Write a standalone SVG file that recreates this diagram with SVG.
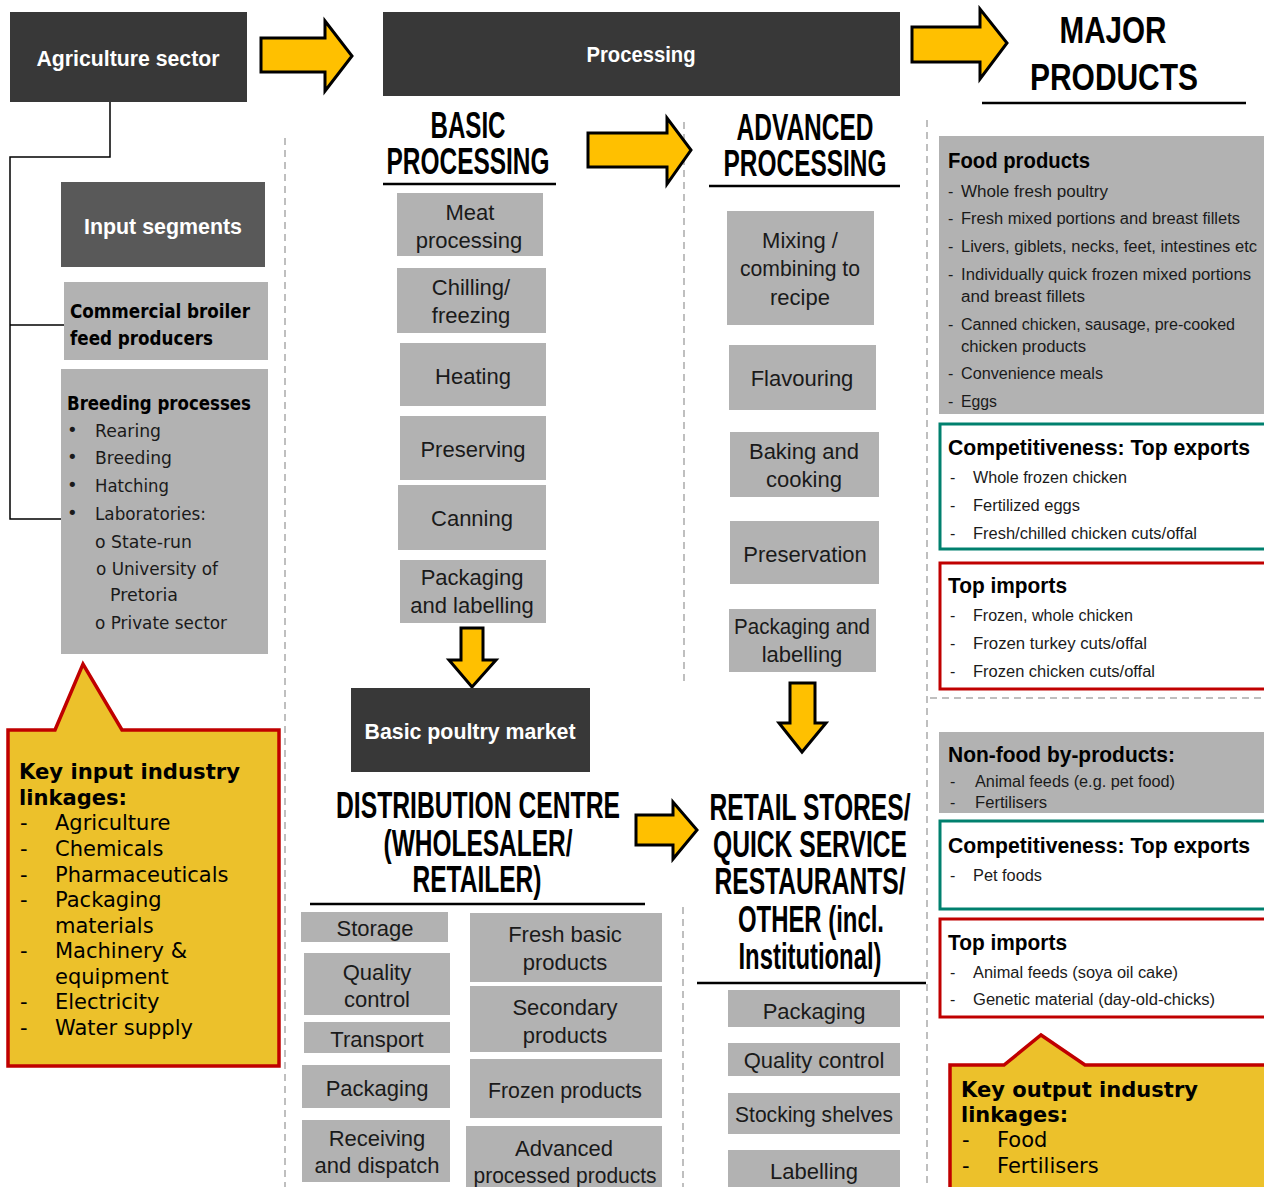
<svg xmlns="http://www.w3.org/2000/svg" width="1264" height="1187" viewBox="0 0 1264 1187">
<style>
.dark{fill:#383838}
.mid{fill:#595959}
.gray{fill:#b2b2b2}
.wt{font-family:"Liberation Sans",Arial,sans-serif;font-weight:bold;fill:#fff;font-size:22px;text-anchor:middle}
.hd{font-family:"Liberation Sans",Arial,sans-serif;font-weight:bold;fill:#000;font-size:36px;text-anchor:middle}
.bx{font-family:"Liberation Sans",Arial,sans-serif;fill:#1a1a1a;font-size:22px;text-anchor:middle}
.vb{font-family:"DejaVu Sans",Verdana,sans-serif;fill:#000;font-size:21px}
.vbb{font-family:"DejaVu Sans",Verdana,sans-serif;fill:#000;font-size:21px;font-weight:bold}
.br{font-family:"DejaVu Sans",Verdana,sans-serif;fill:#1a1a1a;font-size:18px}
.brb{font-family:"DejaVu Sans",Verdana,sans-serif;fill:#000;font-size:19px;font-weight:bold}
.rt{font-family:"Liberation Sans",Arial,sans-serif;fill:#1a1a1a;font-size:16px}
.rtb{font-family:"Liberation Sans",Arial,sans-serif;fill:#000;font-size:22px;font-weight:bold}
.arrow{fill:#ffc000;stroke:#000;stroke-width:3;stroke-linejoin:miter}
.conn{fill:none;stroke:#000;stroke-width:1.5}
.dash{fill:none;stroke:#aaa;stroke-width:1.5;stroke-dasharray:7 5}
.ul{stroke:#000;stroke-width:2.5}
.call{fill:#ecc12b;stroke:#c00000;stroke-width:3.5;stroke-linejoin:miter}
.teal{fill:#fff;stroke:#00806e;stroke-width:3}
.red{fill:#fff;stroke:#c00000;stroke-width:3}
</style>
<rect width="1264" height="1187" fill="#fff"/>

<g id="separators">
<line class="dash" x1="285" y1="138" x2="285" y2="1187"/>
<line class="dash" x1="684" y1="122" x2="684" y2="684"/>
<line class="dash" x1="683" y1="907" x2="683" y2="1187"/>
<line class="dash" x1="927" y1="120" x2="927" y2="1187"/>
<line class="dash" x1="930" y1="698" x2="1264" y2="698"/>
</g>

<g id="connectors">
<polyline class="conn" points="110,102 110,157 10,157 10,519 61,519"/>
<line class="conn" x1="10" y1="325" x2="64" y2="325"/>
<polygon class="arrow" points="261,38 325,38 325,21 352,56 325,91 325,72 261,72"/>
<polygon class="arrow" points="912,27 980,27 980,9 1007,43 980,79 980,62 912,62"/>
<polygon class="arrow" points="588,133 667,133 667,118 691,150 667,184 667,167 588,167"/>
<polygon class="arrow" points="636,815 673,815 673,802 697,830 673,859 673,845 636,845"/>
<polygon class="arrow" points="461,628 483,628 483,660 496,660 472,687 449,660 461,660"/>
<polygon class="arrow" points="790,683 815,683 815,723 826,723 802,752 779,723 790,723"/>
</g>

<g id="agriculture-sector">
<rect class="dark" x="10" y="12" width="237" height="90"/>
<text class="wt" x="128" y="66" textLength="183" lengthAdjust="spacingAndGlyphs">Agriculture  sector</text>
</g>

<g id="processing">
<rect class="dark" x="383" y="12" width="517" height="84"/>
<text class="wt" x="641" y="62" textLength="109" lengthAdjust="spacingAndGlyphs">Processing</text>
</g>

<g id="major-products">
<text class="hd" x="1113" y="43" font-size="40" textLength="107" lengthAdjust="spacingAndGlyphs">MAJOR</text>
<text class="hd" x="1114" y="90" font-size="40" textLength="168" lengthAdjust="spacingAndGlyphs">PRODUCTS</text>
<line class="ul" x1="982" y1="103" x2="1246" y2="103"/>
</g>

<g id="input-segments">
<rect class="mid" x="61" y="182" width="204" height="85"/>
<text class="wt" x="163" y="234" textLength="158" lengthAdjust="spacingAndGlyphs">Input  segments</text>
</g>

<g id="commercial-broiler">
<rect class="gray" x="64" y="282" width="204" height="78"/>
<text class="brb" x="70" y="318" textLength="180" lengthAdjust="spacingAndGlyphs">Commercial broiler</text>
<text class="brb" x="70" y="345" textLength="143" lengthAdjust="spacingAndGlyphs">feed producers</text>
</g>

<g id="breeding-processes">
<rect class="gray" x="61" y="369" width="207" height="285"/>
<text class="brb" x="67" y="410" textLength="184" lengthAdjust="spacingAndGlyphs">Breeding processes</text>
<g class="br">
<text x="67" y="436">•</text><text x="95" y="437" textLength="66" lengthAdjust="spacingAndGlyphs">Rearing</text>
<text x="67" y="463">•</text><text x="95" y="464" textLength="77" lengthAdjust="spacingAndGlyphs">Breeding</text>
<text x="67" y="491">•</text><text x="95" y="492" textLength="74" lengthAdjust="spacingAndGlyphs">Hatching</text>
<text x="67" y="519">•</text><text x="95" y="520" textLength="111" lengthAdjust="spacingAndGlyphs">Laboratories:</text>
<text x="95" y="548" textLength="97" lengthAdjust="spacingAndGlyphs">o State-run</text>
<text x="96" y="575" textLength="122" lengthAdjust="spacingAndGlyphs">o University of</text>
<text x="110" y="601" textLength="68" lengthAdjust="spacingAndGlyphs">Pretoria</text>
<text x="95" y="629" textLength="132" lengthAdjust="spacingAndGlyphs">o Private sector</text>
</g>
</g>

<g id="key-input-linkages">
<path class="call" d="M8,730 L55,730 L83,664 L122,730 L279,730 L279,1066 L8,1066 Z"/>
<text class="vbb" x="19" y="779" textLength="221" lengthAdjust="spacingAndGlyphs">Key input industry</text>
<text class="vbb" x="19" y="805" textLength="108" lengthAdjust="spacingAndGlyphs">linkages:</text>
<g class="vb">
<text x="20" y="830">-</text><text x="55" y="830">Agriculture</text>
<text x="20" y="856">-</text><text x="55" y="856">Chemicals</text>
<text x="20" y="882">-</text><text x="55" y="882">Pharmaceuticals</text>
<text x="20" y="907">-</text><text x="55" y="907">Packaging</text>
<text x="55" y="933">materials</text>
<text x="20" y="958">-</text><text x="55" y="958">Machinery &amp;</text>
<text x="55" y="984">equipment</text>
<text x="20" y="1009">-</text><text x="55" y="1009">Electricity</text>
<text x="20" y="1035">-</text><text x="55" y="1035">Water supply</text>
</g>
</g>

<g id="basic-processing">
<text class="hd" x="468" y="138" textLength="75" lengthAdjust="spacingAndGlyphs">BASIC</text>
<text class="hd" x="468" y="174" textLength="163" lengthAdjust="spacingAndGlyphs">PROCESSING</text>
<line class="ul" x1="383" y1="184" x2="556" y2="184"/>
</g>
<g id="meat-processing"><rect class="gray" x="397" y="193" width="146" height="63"/><text class="bx" x="470" y="220">Meat</text><text class="bx" x="469" y="248">processing</text></g>
<g id="chilling-freezing"><rect class="gray" x="397" y="268" width="149" height="65"/><text class="bx" x="471" y="295">Chilling/</text><text class="bx" x="471" y="323">freezing</text></g>
<g id="heating"><rect class="gray" x="400" y="343" width="146" height="63"/><text class="bx" x="473" y="384">Heating</text></g>
<g id="preserving"><rect class="gray" x="400" y="416" width="146" height="64"/><text class="bx" x="473" y="457">Preserving</text></g>
<g id="canning"><rect class="gray" x="398" y="485" width="148" height="65"/><text class="bx" x="472" y="526">Canning</text></g>
<g id="packaging-labelling-basic"><rect class="gray" x="400" y="560" width="146" height="63"/><text class="bx" x="472" y="585">Packaging</text><text class="bx" x="472" y="613">and labelling</text></g>

<g id="basic-poultry-market">
<rect class="dark" x="351" y="688" width="239" height="84"/>
<text class="wt" x="470" y="739" textLength="211" lengthAdjust="spacingAndGlyphs">Basic poultry market</text>
</g>

<g id="advanced-processing">
<text class="hd" x="805" y="140" textLength="137" lengthAdjust="spacingAndGlyphs">ADVANCED</text>
<text class="hd" x="805" y="176" textLength="163" lengthAdjust="spacingAndGlyphs">PROCESSING</text>
<line class="ul" x1="709" y1="186" x2="900" y2="186"/>
</g>
<g id="mixing"><rect class="gray" x="727" y="211" width="147" height="114"/><text class="bx" x="800" y="248">Mixing /</text><text class="bx" x="800" y="276" textLength="120" lengthAdjust="spacingAndGlyphs">combining to</text><text class="bx" x="800" y="305">recipe</text></g>
<g id="flavouring"><rect class="gray" x="729" y="345" width="147" height="65"/><text class="bx" x="802" y="386">Flavouring</text></g>
<g id="baking-cooking"><rect class="gray" x="730" y="432" width="149" height="65"/><text class="bx" x="804" y="459">Baking and</text><text class="bx" x="804" y="487">cooking</text></g>
<g id="preservation"><rect class="gray" x="730" y="521" width="149" height="63"/><text class="bx" x="805" y="562">Preservation</text></g>
<g id="packaging-labelling-adv"><rect class="gray" x="729" y="609" width="147" height="63"/><text class="bx" x="802" y="634" textLength="136" lengthAdjust="spacingAndGlyphs">Packaging and</text><text class="bx" x="802" y="662">labelling</text></g>

<g id="distribution-centre">
<text class="hd" x="478" y="818" textLength="284" lengthAdjust="spacingAndGlyphs">DISTRIBUTION CENTRE</text>
<text class="hd" x="478" y="856" textLength="189" lengthAdjust="spacingAndGlyphs">(WHOLESALER/</text>
<text class="hd" x="477" y="892" textLength="129" lengthAdjust="spacingAndGlyphs">RETAILER)</text>
<line class="ul" x1="310" y1="904" x2="645" y2="904"/>
</g>
<g id="storage"><rect class="gray" x="301" y="912" width="147" height="30"/><text class="bx" x="375" y="936">Storage</text></g>
<g id="quality-control-dc"><rect class="gray" x="304" y="953" width="146" height="62"/><text class="bx" x="377" y="980">Quality</text><text class="bx" x="377" y="1007">control</text></g>
<g id="transport"><rect class="gray" x="304" y="1022" width="146" height="31"/><text class="bx" x="377" y="1047">Transport</text></g>
<g id="packaging-dc"><rect class="gray" x="302" y="1065" width="148" height="43"/><text class="bx" x="377" y="1096">Packaging</text></g>
<g id="receiving"><rect class="gray" x="302" y="1120" width="148" height="62"/><text class="bx" x="377" y="1146">Receiving</text><text class="bx" x="377" y="1173">and dispatch</text></g>
<g id="fresh-basic"><rect class="gray" x="470" y="913" width="192" height="69"/><text class="bx" x="565" y="942">Fresh basic</text><text class="bx" x="565" y="970">products</text></g>
<g id="secondary"><rect class="gray" x="470" y="986" width="192" height="66"/><text class="bx" x="565" y="1015">Secondary</text><text class="bx" x="565" y="1043">products</text></g>
<g id="frozen"><rect class="gray" x="470" y="1059" width="192" height="59"/><text class="bx" x="565" y="1098" textLength="154" lengthAdjust="spacingAndGlyphs">Frozen products</text></g>
<g id="advanced-processed"><rect class="gray" x="466" y="1126" width="196" height="61"/><text class="bx" x="564" y="1156">Advanced</text><text class="bx" x="565" y="1183" textLength="183" lengthAdjust="spacingAndGlyphs">processed products</text></g>

<g id="retail-stores">
<text class="hd" x="810" y="820" textLength="201" lengthAdjust="spacingAndGlyphs">RETAIL STORES/</text>
<text class="hd" x="810" y="857" textLength="194" lengthAdjust="spacingAndGlyphs">QUICK SERVICE</text>
<text class="hd" x="810" y="894" textLength="191" lengthAdjust="spacingAndGlyphs">RESTAURANTS/</text>
<text class="hd" x="811" y="932" textLength="146" lengthAdjust="spacingAndGlyphs">OTHER (incl.</text>
<text class="hd" x="810" y="969" textLength="143" lengthAdjust="spacingAndGlyphs">Institutional)</text>
<line class="ul" x1="697" y1="983" x2="926" y2="983"/>
</g>
<g id="packaging-retail"><rect class="gray" x="728" y="990" width="172" height="37"/><text class="bx" x="814" y="1019">Packaging</text></g>
<g id="quality-control-retail"><rect class="gray" x="728" y="1043" width="172" height="33"/><text class="bx" x="814" y="1068">Quality control</text></g>
<g id="stocking-shelves"><rect class="gray" x="728" y="1093" width="172" height="41"/><text class="bx" x="814" y="1122" textLength="158" lengthAdjust="spacingAndGlyphs">Stocking shelves</text></g>
<g id="labelling-retail"><rect class="gray" x="728" y="1150" width="172" height="37"/><text class="bx" x="814" y="1179">Labelling</text></g>

<g id="food-products">
<rect class="gray" x="939" y="136" width="325" height="278"/>
<text class="rtb" x="948" y="168" textLength="142" lengthAdjust="spacingAndGlyphs">Food products</text>
<g class="rt">
<text x="948" y="197">-</text><text x="961" y="197" textLength="147" lengthAdjust="spacingAndGlyphs">Whole fresh  poultry</text>
<text x="948" y="224">-</text><text x="961" y="224" textLength="279" lengthAdjust="spacingAndGlyphs">Fresh mixed portions and breast fillets</text>
<text x="948" y="252">-</text><text x="961" y="252" textLength="296" lengthAdjust="spacingAndGlyphs">Livers, giblets, necks, feet, intestines etc</text>
<text x="948" y="280">-</text><text x="961" y="280" textLength="290" lengthAdjust="spacingAndGlyphs">Individually quick frozen mixed portions</text>
<text x="961" y="302" textLength="124" lengthAdjust="spacingAndGlyphs">and breast fillets</text>
<text x="948" y="330">-</text><text x="961" y="330" textLength="274" lengthAdjust="spacingAndGlyphs">Canned chicken, sausage, pre-cooked</text>
<text x="961" y="352" textLength="125" lengthAdjust="spacingAndGlyphs">chicken products</text>
<text x="948" y="379">-</text><text x="961" y="379" textLength="142" lengthAdjust="spacingAndGlyphs">Convenience meals</text>
<text x="948" y="407">-</text><text x="961" y="407" textLength="36" lengthAdjust="spacingAndGlyphs">Eggs</text>
</g>
</g>

<g id="top-exports-food">
<rect class="teal" x="940" y="424" width="326" height="125"/>
<text class="rtb" x="948" y="455" textLength="302" lengthAdjust="spacingAndGlyphs">Competitiveness:  Top exports</text>
<g class="rt">
<text x="950" y="483">-</text><text x="973" y="483" textLength="154" lengthAdjust="spacingAndGlyphs">Whole frozen chicken</text>
<text x="950" y="511">-</text><text x="973" y="511" textLength="107" lengthAdjust="spacingAndGlyphs">Fertilized eggs</text>
<text x="950" y="539">-</text><text x="973" y="539" textLength="224" lengthAdjust="spacingAndGlyphs">Fresh/chilled chicken cuts/offal</text>
</g>
</g>

<g id="top-imports-food">
<rect class="red" x="940" y="563" width="326" height="126"/>
<text class="rtb" x="948" y="593" textLength="119" lengthAdjust="spacingAndGlyphs">Top imports</text>
<g class="rt">
<text x="950" y="621">-</text><text x="973" y="621" textLength="160" lengthAdjust="spacingAndGlyphs">Frozen, whole chicken</text>
<text x="950" y="649">-</text><text x="973" y="649" textLength="174" lengthAdjust="spacingAndGlyphs">Frozen turkey cuts/offal</text>
<text x="950" y="677">-</text><text x="973" y="677" textLength="182" lengthAdjust="spacingAndGlyphs">Frozen chicken cuts/offal</text>
</g>
</g>

<g id="non-food">
<rect class="gray" x="939" y="732" width="325" height="81"/>
<text class="rtb" x="948" y="762" textLength="227" lengthAdjust="spacingAndGlyphs">Non-food by-products:</text>
<g class="rt">
<text x="950" y="787">-</text><text x="975" y="787" textLength="200" lengthAdjust="spacingAndGlyphs">Animal feeds (e.g. pet food)</text>
<text x="950" y="808">-</text><text x="975" y="808" textLength="72" lengthAdjust="spacingAndGlyphs">Fertilisers</text>
</g>
</g>

<g id="top-exports-nonfood">
<rect class="teal" x="940" y="821" width="326" height="88"/>
<text class="rtb" x="948" y="853" textLength="302" lengthAdjust="spacingAndGlyphs">Competitiveness:  Top exports</text>
<g class="rt">
<text x="950" y="881">-</text><text x="973" y="881" textLength="69" lengthAdjust="spacingAndGlyphs">Pet foods</text>
</g>
</g>

<g id="top-imports-nonfood">
<rect class="red" x="940" y="919" width="326" height="98"/>
<text class="rtb" x="948" y="950" textLength="119" lengthAdjust="spacingAndGlyphs">Top imports</text>
<g class="rt">
<text x="950" y="978">-</text><text x="973" y="978" textLength="205" lengthAdjust="spacingAndGlyphs">Animal feeds (soya oil cake)</text>
<text x="950" y="1005">-</text><text x="973" y="1005" textLength="242" lengthAdjust="spacingAndGlyphs">Genetic material (day-old-chicks)</text>
</g>
</g>

<g id="key-output-linkages">
<path class="call" d="M950,1065 L1004,1065 L1041,1035 L1085,1065 L1266,1065 L1266,1190 L950,1190 Z"/>
<text class="vbb" x="961" y="1097" textLength="237" lengthAdjust="spacingAndGlyphs">Key output industry</text>
<text class="vbb" x="961" y="1122" textLength="107" lengthAdjust="spacingAndGlyphs">linkages:</text>
<g class="vb">
<text x="962" y="1147">-</text><text x="997" y="1147">Food</text>
<text x="962" y="1173">-</text><text x="997" y="1173">Fertilisers</text>
</g>
</g>
</svg>
